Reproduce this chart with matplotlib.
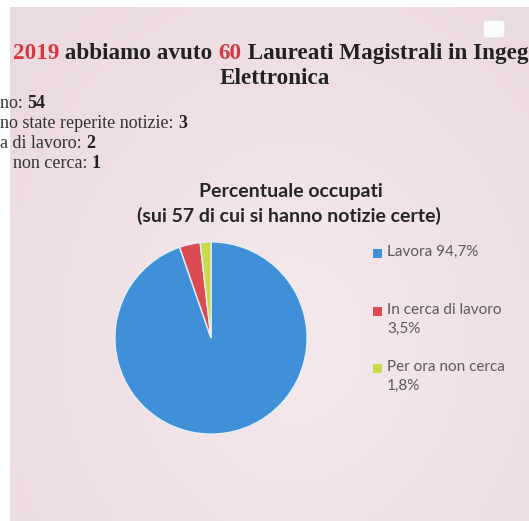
import numpy as np
import matplotlib
matplotlib.use("Agg")
import matplotlib.pyplot as plt
from matplotlib.patches import Rectangle, FancyBboxPatch

# data
categories = ["Lavora", "In cerca di lavoro", "Per ora non cerca"]
percent = [94.7, 3.5, 1.8]
pct_labels = ["94,7%", "3,5%", "1,8%"]
colors = ["#3f90d8", "#dc4a52", "#c9da4c"]

# the slide is photographed cropped, only these parts of the text are visible
title_parts = [("2019", "#d43a40"), (" abbiamo avuto ", "#222222"),
               ("60", "#d43a40"), (" Laureati Magistrali in Ingeg", "#222222")]
info_labels = ["no: ", "no state reperite notizie: ", "a di lavoro: ", "non cerca: "]
info_values = ["54", "3", "2", "1"]

W, H = 529, 521
fig = plt.figure(figsize=(W / 100, H / 100), dpi=100)
fig.patch.set_facecolor("white")

# pink slide background
bg = fig.add_axes([0, 0, 1, 1])
bg.set_xlim(0, W)
bg.set_ylim(H, 0)
bg.axis("off")
yy, xx = np.mgrid[0:100, 0:100] / 99.0
d = np.sqrt(((xx - 0.55) * 1.2) ** 2 + (yy - 0.65) ** 2)
c0 = np.array([0.965, 0.915, 0.930])
c1 = np.array([0.925, 0.855, 0.878])
t = np.clip(d / 0.8, 0, 1)[..., None]
img = c0 * (1 - t) + c1 * t
bg.imshow(img, extent=[10, W, H, 7], aspect="auto", interpolation="bilinear")
bg.add_patch(FancyBboxPatch((485, 22), 18, 14, boxstyle="round,pad=2,rounding_size=4",
                            fc="#fbfbfb", ec="#dcdcdc", lw=0.8))

def px(x, y):
    return x / W, 1 - y / H

fig.canvas.draw()
r = fig.canvas.get_renderer()

# slide title, line 1, built piece by piece
serif = "Liberation Serif"
y0 = 1 - 59 / H
xcur = 13
for txt, col in title_parts:
    tt = fig.text(xcur / W, y0, txt, color=col, fontsize=16.7, fontweight="bold",
                  family=serif, ha="left", va="baseline")
    xcur = tt.get_window_extent(r).x1
fig.text(*px(275, 84), "Elettronica", color="#222222", fontsize=16.7, fontweight="bold",
         family=serif, ha="center", va="baseline")

# list on the left
starts = [0, 0, 0, 13]
for i, (lab, val) in enumerate(zip(info_labels, info_values)):
    yb = 108 + 20 * i
    l = fig.text(*px(starts[i], yb), lab, fontsize=13, family=serif, color="#333333",
                 ha="left", va="baseline")
    x1 = l.get_window_extent(r).x1
    fig.text(x1 / W, 1 - yb / H, val, fontsize=13, fontweight="bold", family=serif,
             color="#222222", ha="left", va="baseline")

# chart title
fig.text(*px(291, 191), "Percentuale occupati", fontsize=14, fontweight="bold",
         family="Lato", color="#262626", ha="center", va="center")
fig.text(*px(289, 216), "(sui 57 di cui si hanno notizie certe)", fontsize=14,
         fontweight="bold", family="Lato", color="#262626", ha="center", va="center")

# pie
cx, cy, rad = 211, 338, 98
ax = fig.add_axes([(cx - rad) / W, 1 - (cy + rad) / H, 2 * rad / W, 2 * rad / H])
ax.pie(percent, colors=colors, startangle=90, counterclock=False,
       wedgeprops=dict(edgecolor="#e4f0f8", linewidth=1.0))
ax.set_xlim(-1.02, 1.02)
ax.set_ylim(-1.02, 1.02)
ax.set_aspect("equal")
ax.axis("off")

# legend drawn by hand
leg_y = [253, 311, 368]
for i, (cat, pl) in enumerate(zip(categories, pct_labels)):
    y = leg_y[i]
    bg.add_patch(Rectangle((373, y - 4.5), 9, 9, fc=colors[i], ec="none"))
    if i == 0:
        txt = cat + " " + pl
    else:
        txt = cat + "\n" + pl
    fig.text(*px(387, y - 8), txt, fontsize=11, family="Lato", color="#5a5a5a",
             ha="left", va="top", linespacing=1.45)

fig.savefig("out.png", dpi=100)
